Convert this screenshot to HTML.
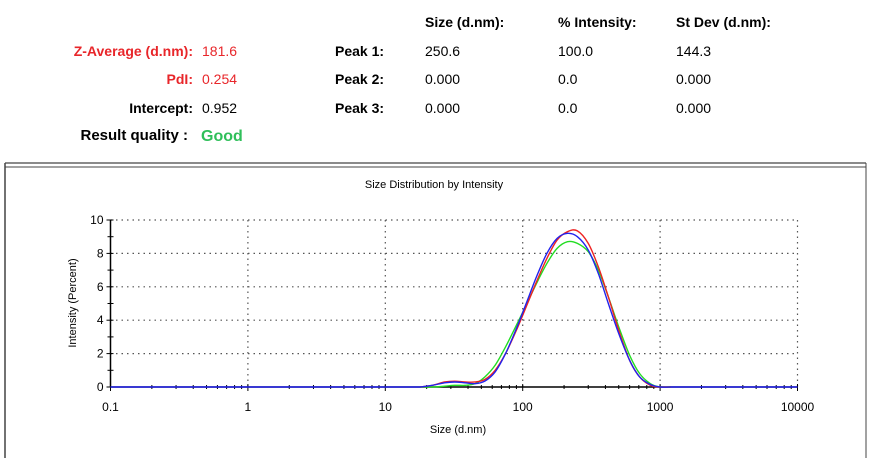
<!DOCTYPE html>
<html><head><meta charset="utf-8"><style>
body{margin:0;background:#fff;width:880px;height:458px;overflow:hidden;font-family:"Liberation Sans",Arial,sans-serif}
</style></head><body>
<svg width="880" height="458" viewBox="0 0 880 458" xmlns="http://www.w3.org/2000/svg" font-family="Liberation Sans, Arial, sans-serif">
<g font-size="14">
<g font-weight="bold" fill="#000">
<text x="425" y="27">Size (d.nm):</text>
<text x="558" y="27">% Intensity:</text>
<text x="676" y="27">St Dev (d.nm):</text>
<text x="193" y="56" text-anchor="end" fill="#e8262a">Z-Average (d.nm):</text>
<text x="193" y="84" text-anchor="end" fill="#e8262a">PdI:</text>
<text x="193" y="113" text-anchor="end">Intercept:</text>
<text x="188" y="140" text-anchor="end" font-size="15">Result quality :</text>
<text x="335" y="56">Peak 1:</text>
<text x="335" y="84">Peak 2:</text>
<text x="335" y="113">Peak 3:</text>
<text x="201" y="141" fill="#2fbf5a" font-size="16">Good</text>
</g>
<text x="202" y="56" fill="#e8262a">181.6</text>
<text x="202" y="84" fill="#e8262a">0.254</text>
<text x="202" y="113">0.952</text>
<text x="425" y="56">250.6</text>
<text x="558" y="56">100.0</text>
<text x="676" y="56">144.3</text>
<text x="425" y="84">0.000</text>
<text x="558" y="84">0.0</text>
<text x="676" y="84">0.000</text>
<text x="425" y="113">0.000</text>
<text x="558" y="113">0.0</text>
<text x="676" y="113">0.000</text>
</g>
<g fill="none" stroke="#444">
<line x1="5" y1="163" x2="866" y2="163" stroke-width="1.2"/>
<line x1="5" y1="167" x2="866" y2="167" stroke-width="1"/>
<line x1="5" y1="163" x2="5" y2="458" stroke-width="1.5"/>
<line x1="866" y1="163" x2="866" y2="458" stroke-width="1"/>
</g>
<text x="434" y="188" text-anchor="middle" font-size="11">Size Distribution by Intensity</text>
<text x="458" y="433" text-anchor="middle" font-size="11">Size (d.nm)</text>
<text transform="translate(76,303) rotate(-90)" text-anchor="middle" font-size="11">Intensity (Percent)</text>
<g id="grid"></g><g id="axes"></g><g id="series"></g>
</svg>
<script>
const sizes=[18,22,27,32,38,45,53,63,75,90,106,126,150,178,212,250,300,355,420,500,600,710,850,1000,1200];
const red=[0,0.1,0.3,0.35,0.3,0.3,0.45,1.0,2.0,3.4,4.8,6.3,7.7,8.8,9.3,9.35,8.6,7.2,5.4,3.4,1.6,0.6,0.1,0,0];
const blue=[0,0.1,0.25,0.3,0.25,0.2,0.35,0.9,2.0,3.5,5.0,6.6,8.0,8.9,9.2,9.0,8.2,6.8,5.0,3.2,1.6,0.6,0.15,0,0];
const green=[0,0,0.05,0.1,0.1,0.2,0.6,1.3,2.4,3.7,4.9,6.2,7.4,8.3,8.7,8.6,8.1,7.0,5.4,3.6,1.9,0.8,0.2,0,0];
const xTicks=[0.1,1,10,100,1000,10000];
const xTickLabels=["0.1","1","10","100","1000","10000"];
const yTicks=[0,2,4,6,8,10];
const NS="http://www.w3.org/2000/svg";
const X0=110.5,DEC=137.4,Y0=387,YU=16.7;
const xs=v=>X0+(Math.log10(v)+1)*DEC;
const ys=v=>Y0-v*YU;
function mk(t,a,p){const e=document.createElementNS(NS,t);for(const k in a)e.setAttribute(k,a[k]);p.appendChild(e);return e;}
const grid=document.getElementById('grid'),axes=document.getElementById('axes'),ser=document.getElementById('series');
const xR=xs(10000);
yTicks.forEach(v=>{if(v>0){const l=mk('line',{x1:X0,x2:xR,y1:ys(v),y2:ys(v),stroke:'#555','stroke-width':1.2,'stroke-dasharray':'1.5 4'},grid);

}
const t=mk('text',{x:X0-7,y:ys(v)+4,'text-anchor':'end','font-size':12,'font-weight':500},axes);t.textContent=v;


mk('line',{x1:X0-4,x2:X0+3,y1:ys(v),y2:ys(v),stroke:'#000'},axes);
if(v<10)mk('line',{x1:X0-3,x2:X0+3,y1:ys(v+1),y2:ys(v+1),stroke:'#000'},axes);});
xTicks.forEach((v,i)=>{if(i>0){const l=mk('line',{x1:xs(v),x2:xs(v),y1:ys(10),y2:Y0,stroke:'#555','stroke-width':1.2,'stroke-dasharray':'1.5 4'},grid);

}
const t=mk('text',{x:xs(v),y:Y0+24,'text-anchor':'middle','font-size':12},axes);t.textContent=xTickLabels[i];


mk('line',{x1:xs(v),x2:xs(v),y1:Y0-3,y2:Y0+4,stroke:'#000'},axes);
if(i<xTicks.length-1)for(let m=2;m<10;m++)mk('line',{x1:xs(v*m),x2:xs(v*m),y1:Y0-2,y2:Y0+2,stroke:'#000'},axes);});
const xa=mk('line',{x1:X0,x2:xR,y1:Y0,y2:Y0,stroke:'#000','stroke-width':1.5},axes);


const ya=mk('line',{x1:X0,x2:X0,y1:ys(10),y2:Y0,stroke:'#000','stroke-width':1.5},axes);


function pathFor(vals,extend){const p=sizes.map((s,i)=>[xs(s),ys(vals[i])]);
let d='M'+(extend?X0+','+Y0+' L':'')+p[0][0]+','+p[0][1];
for(let i=0;i<p.length-1;i++){const a=p[Math.max(0,i-1)],b=p[i],c=p[i+1],e=p[Math.min(p.length-1,i+2)];
d+=' C'+(b[0]+(c[0]-a[0])/6)+','+(b[1]+(c[1]-a[1])/6)+' '+(c[0]-(e[0]-b[0])/6)+','+(c[1]-(e[1]-b[1])/6)+' '+c[0]+','+c[1];}
if(extend)d+=' L'+xR+','+Y0;return d;}
[[green,'#22dd22','series-green',false],[red,'#ee2222','series-red',false],[blue,'#2222ee','series-blue',true]].forEach(s=>{
const p=mk('path',{d:pathFor(s[0],s[3]),fill:'none',stroke:s[1],'stroke-width':1.4},ser);

});
</script>
</body></html>
